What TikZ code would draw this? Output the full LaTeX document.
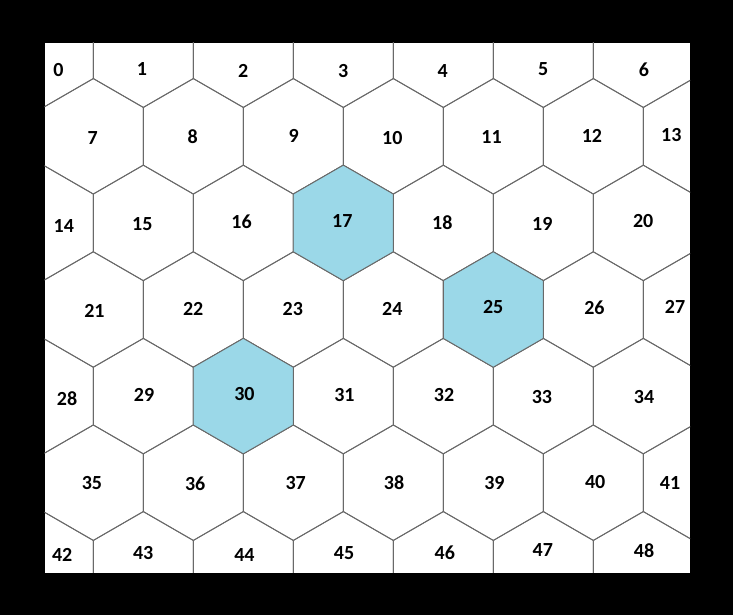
\documentclass[tikz,border=0pt]{standalone}
\usepackage{fontspec}
\setmainfont{Carlito}
\definecolor{hexblue}{RGB}{155,216,232}
\definecolor{hexgray}{RGB}{105,105,105}
\tikzset{
  hexline/.style={draw=hexgray, line width=0.9pt, line join=miter},
  lbl/.style={font=\bfseries\fontsize{20}{22}\selectfont, inner sep=0pt, text=black},
  hexagon/.pic={\path[hexline] (30:57.74) -- (90:57.74) -- (150:57.74) -- (210:57.74) -- (270:57.74) -- (330:57.74) -- cycle;},
  hexfilled/.pic={\path[hexline, fill=hexblue] (30:57.74) -- (90:57.74) -- (150:57.74) -- (210:57.74) -- (270:57.74) -- (330:57.74) -- cycle;}
}
\begin{document}
\begin{tikzpicture}[x=1pt, y=-1pt]
\useasboundingbox (0,0) rectangle (733,615);
\fill[black] (0,0) rectangle (733,615);
\fill[white] (44.7,42.7) rectangle (690,572.7);
\begin{scope}
\clip (44.7,42.7) rectangle (690,572.7);
\foreach \r in {0,...,6}{
  \foreach \c in {0,...,6}{
    \pgfmathsetmacro\cx{43.3+100*\c+50*mod(\r,2)}
    \pgfmathsetmacro\cy{49.7+86.6*\r}
    \pic at (\cx,\cy) {hexagon};
  }
}
\pic at (343.3,222.9) {hexfilled};
\pic at (493.3,309.5) {hexfilled};
\pic at (243.3,396.1) {hexfilled};
\end{scope}
% labels
\node[lbl] (n0) at (58.5,70) {0};
\node[lbl] (n1) at (141.9,69.3) {1};
\node[lbl] (n2) at (243.2,70.7) {2};
\node[lbl] (n3) at (343.2,71) {3};
\node[lbl] (n4) at (442.8,70.7) {4};
\node[lbl] (n5) at (543.2,69) {5};
\node[lbl] (n6) at (644,70) {6};
\node[lbl] (n7) at (92.8,137.7) {7};
\node[lbl] (n8) at (192.8,137) {8};
\node[lbl] (n9) at (293.6,135.7) {9};
\node[lbl] (n10) at (392.3,137.7) {10};
\node[lbl] (n11) at (491.5,137) {11};
\node[lbl] (n12) at (591.9,136.3) {12};
\node[lbl] (n13) at (671.3,135) {13};
\node[lbl] (n14) at (63.8,225.7) {14};
\node[lbl] (n15) at (142.3,224.3) {15};
\node[lbl] (n16) at (241.5,222) {16};
\node[lbl] (n17) at (342.3,221.3) {17};
\node[lbl] (n18) at (442.3,223) {18};
\node[lbl] (n19) at (542.3,224.3) {19};
\node[lbl] (n20) at (643.2,220.7) {20};
\node[lbl] (n21) at (94.4,310.7) {21};
\node[lbl] (n22) at (193.2,308.7) {22};
\node[lbl] (n23) at (292.8,308.7) {23};
\node[lbl] (n24) at (392.3,308.7) {24};
\node[lbl] (n25) at (493.2,307.3) {25};
\node[lbl] (n26) at (594.4,308) {26};
\node[lbl] (n27) at (675,307.3) {27};
\node[lbl] (n28) at (67.1,398.3) {28};
\node[lbl] (n29) at (144,395) {29};
\node[lbl] (n30) at (244.4,394) {30};
\node[lbl] (n31) at (344.4,395) {31};
\node[lbl] (n32) at (444,395) {32};
\node[lbl] (n33) at (541.9,397.3) {33};
\node[lbl] (n34) at (644,396.7) {34};
\node[lbl] (n35) at (91.9,483.3) {35};
\node[lbl] (n36) at (195.2,484) {36};
\node[lbl] (n37) at (295.7,483) {37};
\node[lbl] (n38) at (394,483) {38};
\node[lbl] (n39) at (494.4,483) {39};
\node[lbl] (n40) at (595.2,482) {40};
\node[lbl] (n41) at (670,482.7) {41};
\node[lbl] (n42) at (62.2,554.7) {42};
\node[lbl] (n43) at (143.2,553) {43};
\node[lbl] (n44) at (244.4,555.3) {44};
\node[lbl] (n45) at (344,552.7) {45};
\node[lbl] (n46) at (444.8,552.7) {46};
\node[lbl] (n47) at (542.8,550.3) {47};
\node[lbl] (n48) at (644,550.7) {48};
\end{tikzpicture}
\end{document}
